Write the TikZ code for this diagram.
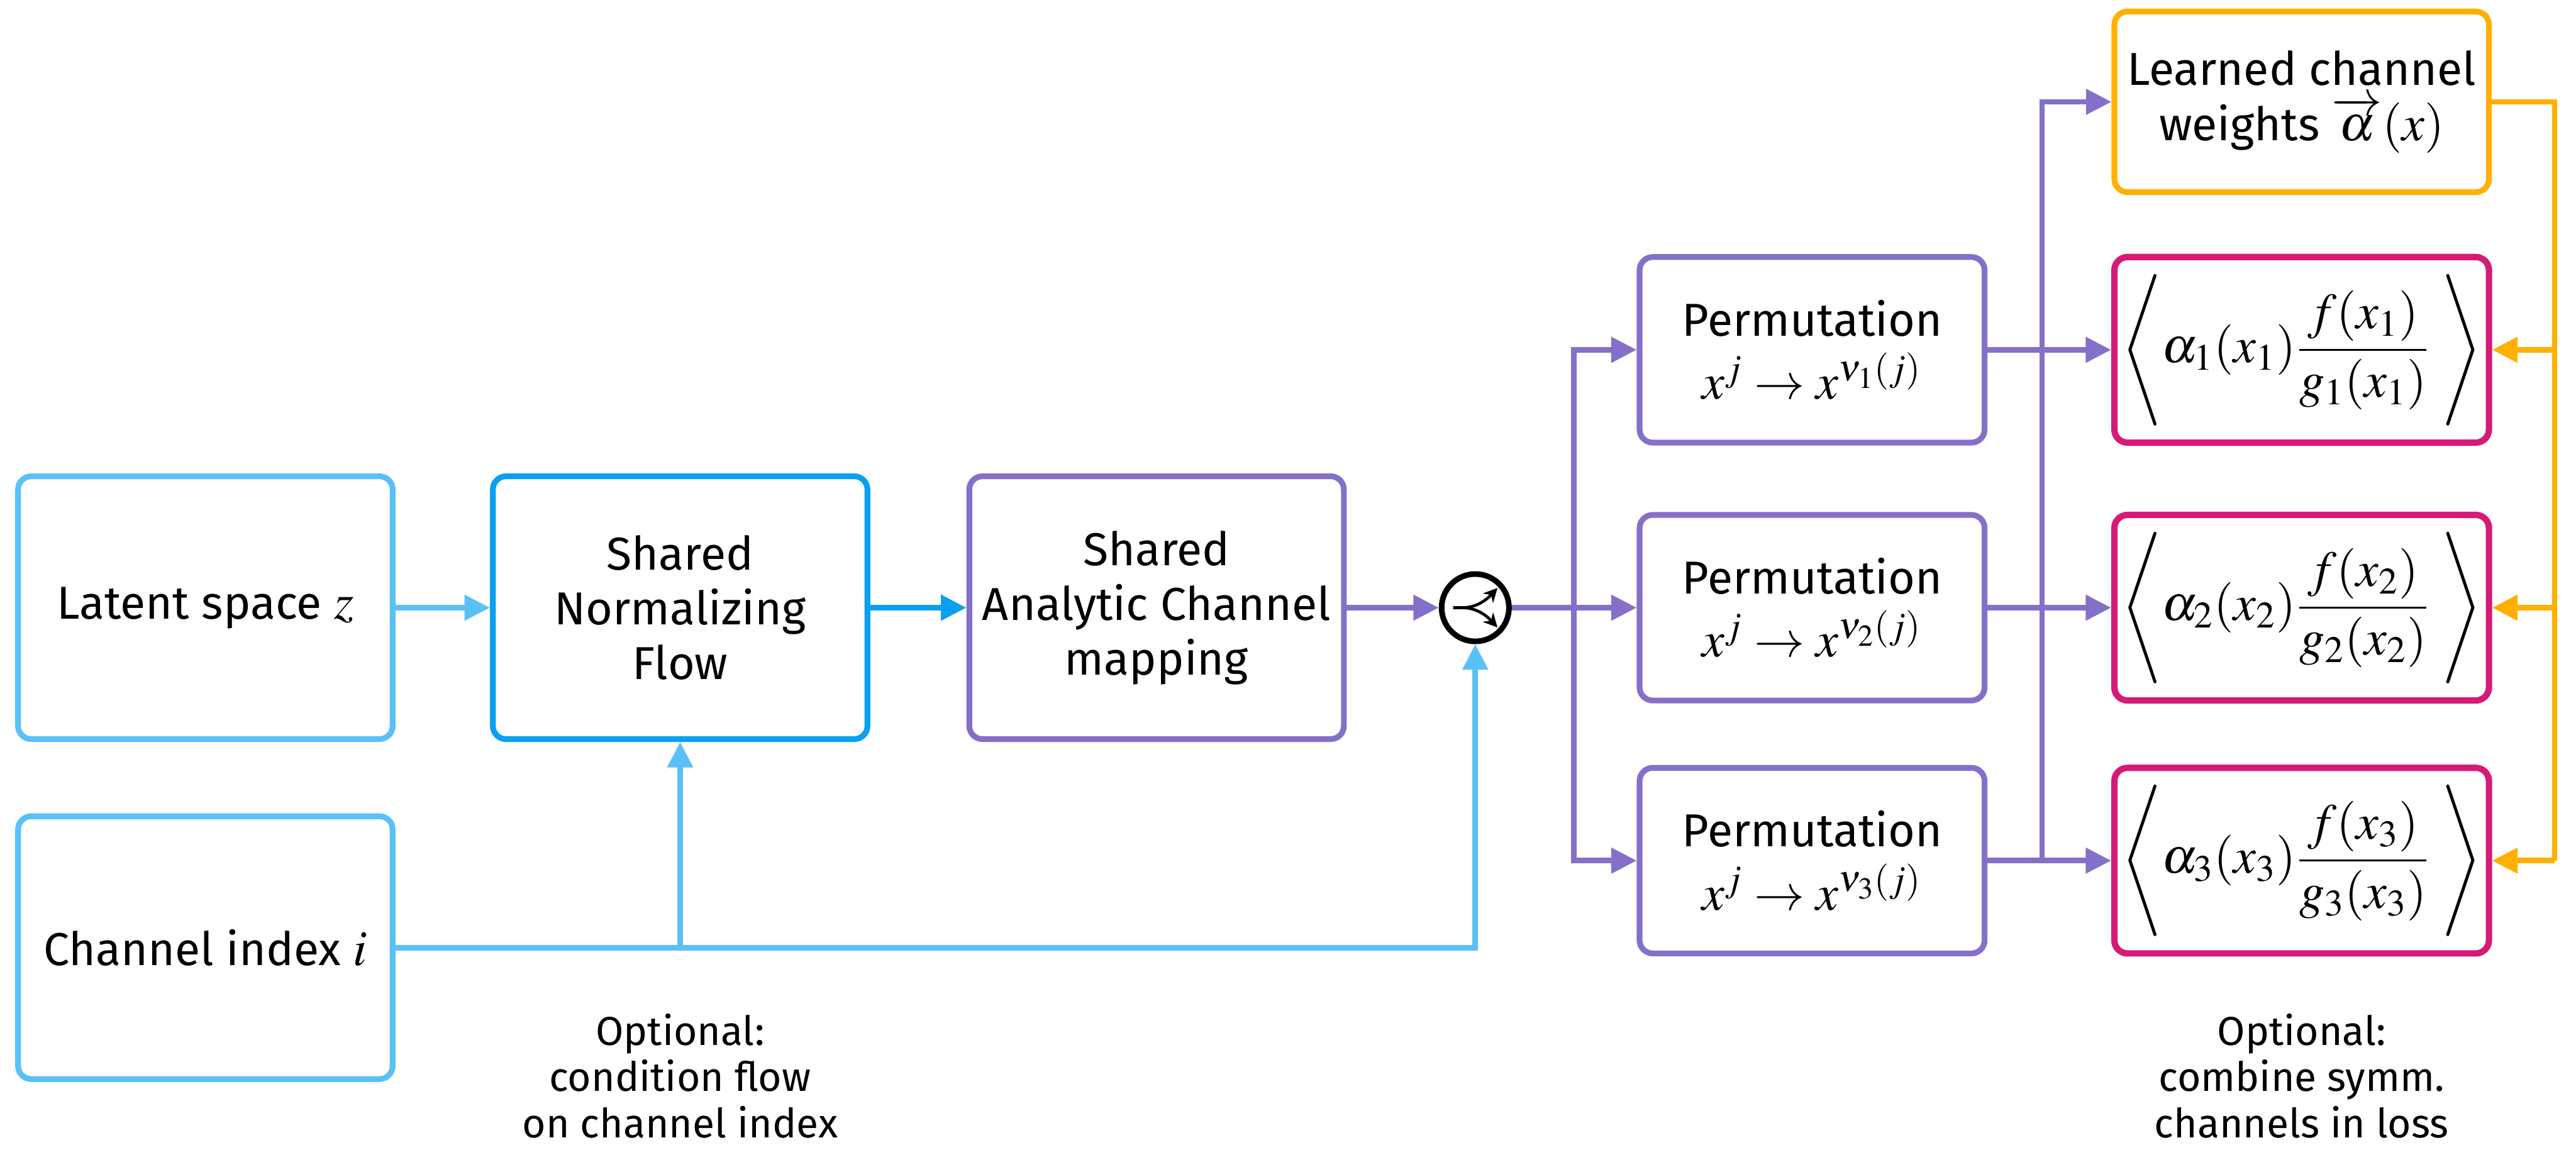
\documentclass[tikz,border=0pt]{standalone}
\usepackage{amsmath}
\usepackage{mathptmx}
\usepackage[no-math]{fontspec}
\setmainfont{Fira Sans}
\usepackage{tikz}
\usetikzlibrary{calc,arrows.meta,positioning}

\definecolor{lightblue}{RGB}{91,192,248}
\definecolor{flowblue}{RGB}{10,160,240}
\definecolor{mappurple}{RGB}{132,112,200}
\definecolor{losspink}{RGB}{214,26,117}
\definecolor{weightorange}{RGB}{255,176,0}

\newcommand{\bigmath}[1]{{\fontsize{17.5}{20}\selectfont$#1$}}

\tikzset{
    box/.style={draw, line width=2pt, rounded corners=1.6mm, align=center, fill=white, font=\fontsize{16}{19}\selectfont},
    bigbox/.style={box, minimum width=45.6mm, minimum height=32mm},
    smallbox/.style={box, minimum width=42mm, minimum height=22.6mm},
    lossbox/.style={box, draw=losspink, line width=2.2pt, minimum width=45.6mm, minimum height=22.6mm, inner xsep=0.5mm, font=\fontsize{17.5}{21}\selectfont},
    link/.style={line width=1.9pt},
    arr/.style={link, -{Triangle[length=3.1mm,width=3.0mm]}},
}

\begin{document}
\begin{tikzpicture}[x=0.2mm,y=-0.2mm,font=\fontsize{14}{16}\selectfont]
            \useasboundingbox (0,0) rectangle (1568,703);
            % left column
            \node[bigbox, draw=lightblue] (lat) at (125,370) {Latent space \bigmath{z}};
            \node[bigbox, draw=lightblue] (idx) at (125,577) {Channel index \bigmath{i}};
            \node[bigbox, draw=flowblue] (nf) at (414,370) {Shared\\Normalizing\\Flow};
            \node[bigbox, draw=mappurple] (acm) at (704,370) {Shared\\Analytic Channel\\mapping};
            \node[circle, draw, line width=1.95pt, minimum size=8.2mm, inner sep=0pt, fill=white] (sw) at (898,370) {};
            % permutations
            \node[smallbox, draw=mappurple] (perm1) at (1103,213) {Permutation\\[1mm]\bigmath{x^j \to x^{\nu_1(j)}}};
            \node[smallbox, draw=mappurple] (perm2) at (1103,370) {Permutation\\[1mm]\bigmath{x^j \to x^{\nu_2(j)}}};
            \node[smallbox, draw=mappurple] (perm3) at (1103,524) {Permutation\\[1mm]\bigmath{x^j \to x^{\nu_3(j)}}};
            % losses
            \node[box, draw=weightorange, minimum width=45.6mm, minimum height=22mm] (lw) at (1401,62) {Learned channel\\weights \bigmath{\overrightarrow{\alpha}(x)}};
            \node[lossbox] (loss1) at (1401,213) {$\Bigg\langle \alpha_1(x_1)\dfrac{f(x_1)}{g_1(x_1)}\;\Bigg\rangle$};
            \node[lossbox] (loss2) at (1401,370) {$\Bigg\langle \alpha_2(x_2)\dfrac{f(x_2)}{g_2(x_2)}\;\Bigg\rangle$};
            \node[lossbox] (loss3) at (1401,524) {$\Bigg\langle \alpha_3(x_3)\dfrac{f(x_3)}{g_3(x_3)}\;\Bigg\rangle$};
            \node[align=center] (opt1) at (414,655) {Optional:\\condition flow\\on channel index};
            \node[align=center] (opt2) at (1401,655) {Optional:\\combine symm.\\channels in loss};
            % switch symbol
            \draw[line width=1pt, -{Stealth[length=1.7mm,width=1.7mm]}] ($(sw)+(-2.7mm,0)$) -- ($(sw)+(-1.6mm,0)$) .. controls ($(sw)+(0.2mm,0)$) and ($(sw)+(1.4mm,1mm)$) .. ($(sw)+(2.7mm,2.4mm)$);
            \draw[line width=1pt, -{Stealth[length=1.7mm,width=1.7mm]}] ($(sw)+(-1.6mm,0)$) .. controls ($(sw)+(0.2mm,0)$) and ($(sw)+(1.4mm,-1mm)$) .. ($(sw)+(2.7mm,-2.4mm)$);
            % connections
            \coordinate (fork) at (958,370);
            \coordinate (tap) at (1243,524);
            \coordinate (back) at (1555,62);
            \draw[arr, lightblue] (lat) -- (nf);
            \draw[arr, flowblue] (nf) -- (acm);
            \draw[arr, mappurple] (acm) -- (sw);
            \draw[arr, lightblue] (idx.east) -| (sw.south);
            \draw[arr, lightblue] (idx.east) -| (nf.south);
            \draw[link, mappurple] (sw) -- (fork);
            \draw[arr, mappurple] (fork) |- (perm1.west);
            \draw[arr, mappurple] (fork) -- (perm2.west);
            \draw[arr, mappurple] (fork) |- (perm3.west);
            \draw[arr, mappurple] (perm1) -- (loss1);
            \draw[arr, mappurple] (perm2) -- (loss2);
            \draw[arr, mappurple] (perm3) -- (loss3);
            \draw[arr, mappurple] (tap) |- (lw.west);
            \draw[link, weightorange] (lw.east) -- (back) -- (back |- loss3.east);
            \draw[arr, weightorange] (back |- loss1.east) -- (loss1.east);
            \draw[arr, weightorange] (back |- loss2.east) -- (loss2.east);
            \draw[arr, weightorange] (back |- loss3.east) -- (loss3.east);
        \end{tikzpicture}
\end{document}
